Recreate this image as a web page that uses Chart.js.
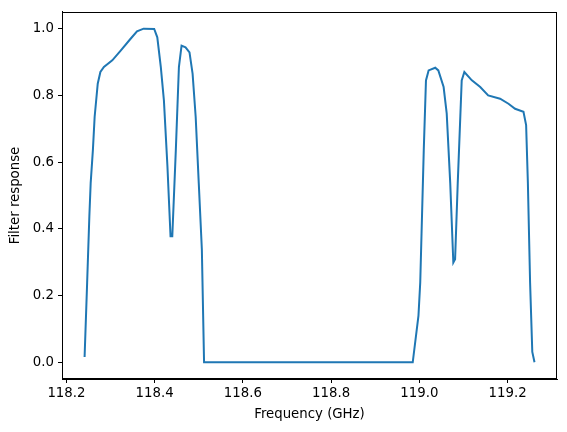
<!DOCTYPE html>
<html>
<head>
<meta charset="utf-8">
<script src="https://cdn.jsdelivr.net/npm/chart.js@4/dist/chart.umd.min.js"></script>
<style>
html,body{margin:0;padding:0;background:#fff;}
#wrap{width:567px;height:432px;position:relative;}
</style>
</head>
<body>
<div id="wrap"><canvas id="c" width="567" height="432"></canvas></div>
<script>
const frequency = [
  118.2412, 118.247, 118.252, 118.255, 118.260, 118.264, 118.271, 118.277, 118.285, 118.304,
  118.323, 118.345, 118.360, 118.375, 118.399, 118.406, 118.414, 118.421, 118.429, 118.436,
  118.440, 118.448, 118.455, 118.461, 118.470, 118.479, 118.486, 118.493, 118.500, 118.507,
  118.512, 118.985, 118.998, 119.002, 119.006, 119.010, 119.015, 119.021, 119.036, 119.043,
  119.055, 119.062, 119.070, 119.077, 119.081, 119.087, 119.096, 119.102, 119.119, 119.138,
  119.156, 119.183, 119.202, 119.217, 119.236, 119.242, 119.246, 119.251, 119.256, 119.261
];
const response = [
  0.016, 0.239, 0.438, 0.537, 0.636, 0.736, 0.835, 0.870, 0.885, 0.905,
  0.934, 0.969, 0.992, 1.000, 0.999, 0.974, 0.885, 0.785, 0.587, 0.378,
  0.378, 0.636, 0.885, 0.949, 0.944, 0.929, 0.865, 0.736, 0.537, 0.339,
  0.000, 0.000, 0.140, 0.239, 0.438, 0.636, 0.845, 0.875, 0.883, 0.875,
  0.825, 0.746, 0.537, 0.299, 0.309, 0.537, 0.845, 0.870, 0.845, 0.825,
  0.800, 0.790, 0.775, 0.760, 0.751, 0.711, 0.537, 0.239, 0.031, 0.000
];
const xTicks = [118.2, 118.4, 118.6, 118.8, 119.0, 119.2];
const yTicks = [0.0, 0.2, 0.4, 0.6, 0.8, 1.0];
const xLabel = "Frequency (GHz)";
const yLabel = "Filter response";

const points = frequency.map((f, i) => ({x: f, y: response[i]}));
const tickFont = {family: "'DejaVu Sans', sans-serif", size: 13.3};

const boxPlugin = {
  id: 'box',
  afterDraw(chart) {
    const a = chart.chartArea, ctx = chart.ctx;
    ctx.save();
    ctx.strokeStyle = '#000';
    ctx.lineWidth = 1;
    ctx.strokeRect(Math.round(a.left) + 0.5, Math.round(a.top) + 0.5,
                   Math.round(a.right - a.left) - 1, Math.round(a.bottom - a.top) - 1);
    ctx.restore();
  }
};

new Chart(document.getElementById('c'), {
  type: 'line',
  data: {
    datasets: [{
      data: points,
      borderColor: '#1f77b4',
      borderWidth: 2,
      pointRadius: 0,
      tension: 0,
      fill: false
    }]
  },
  options: {
    responsive: false,
    animation: false,
    plugins: {legend: {display: false}, tooltip: {enabled: false}},
    layout: {padding: {left: 0, top: 9, right: 10, bottom: 0}},
    scales: {
      x: {
        type: 'linear',
        min: 118.19,
        max: 119.312,
        afterBuildTicks(s) { s.ticks = xTicks.map(v => ({value: v})); },
        afterFit(s) { s.height = 53; },
        ticks: {
          color: '#000', font: tickFont, padding: 3, maxRotation: 0,
          callback: v => Number(v).toFixed(1)
        },
        grid: {drawOnChartArea: false, drawTicks: true, tickLength: 4, color: '#000', tickWidth: 1},
        border: {display: true, color: '#000', width: 1},
        title: {display: true, text: xLabel, color: '#000', font: tickFont, padding: {top: 0, bottom: 9}}
      },
      y: {
        type: 'linear',
        min: -0.05,
        max: 1.05,
        afterBuildTicks(s) { s.ticks = yTicks.map(v => ({value: v})); },
        afterFit(s) { s.width = 62; },
        ticks: {
          color: '#000', font: tickFont, padding: 4,
          callback: v => Number(v).toFixed(1)
        },
        grid: {drawOnChartArea: false, drawTicks: true, tickLength: 4, color: '#000', tickWidth: 1},
        border: {display: true, color: '#000', width: 1},
        title: {display: true, text: yLabel, color: '#000', font: tickFont, padding: {top: 8, bottom: 0}}
      }
    }
  },
  plugins: [boxPlugin]
});
</script>
</body>
</html>
